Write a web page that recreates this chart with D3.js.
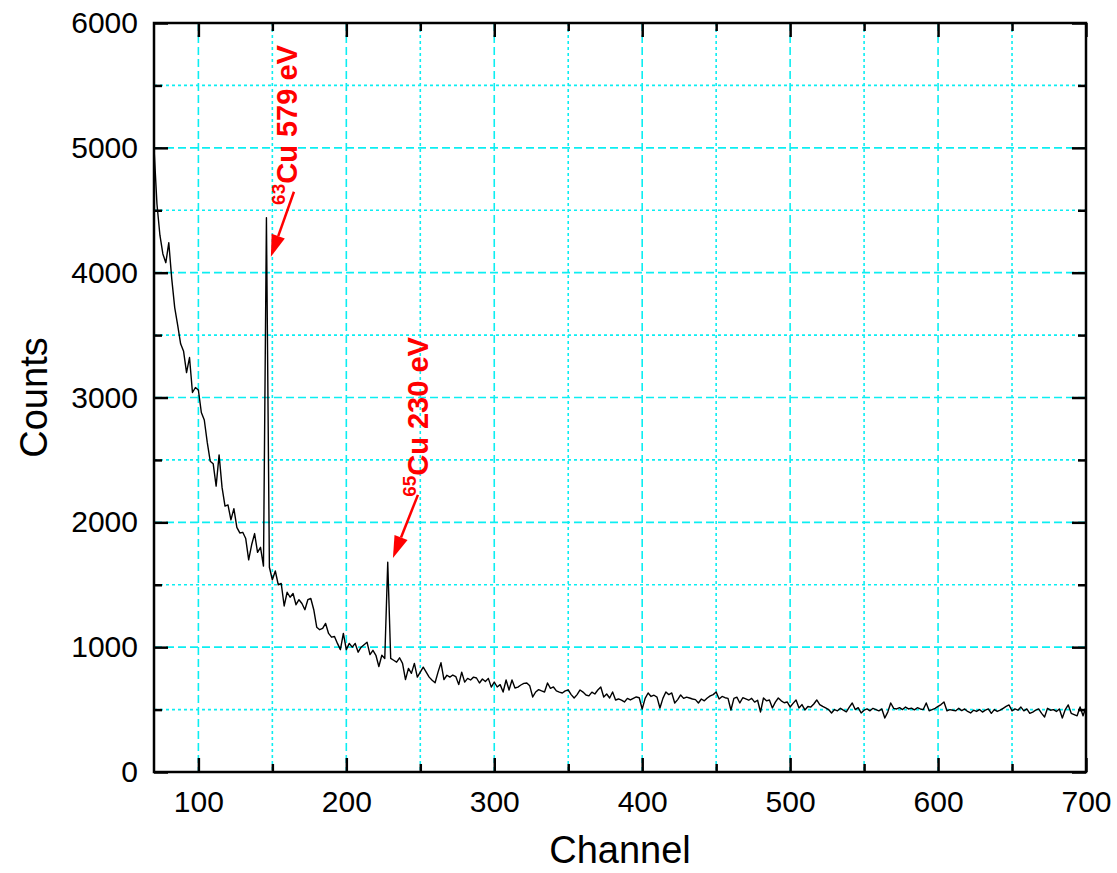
<!DOCTYPE html>
<html><head><meta charset="utf-8">
<script src="https://cdn.jsdelivr.net/npm/d3@7"></script>
<style>body{margin:0;background:#fff;} svg{display:block;font-family:"Liberation Sans", Arial, sans-serif;}</style>
</head><body><svg id="chart" width="1117" height="873"></svg>
<script>
const channels = [
70,72,74,76,78,80,82,84,86,88,
90,92,94,96,98,100,102,104,106,108,
110,112,114,116,118,120,122,124,126,128,
130,132,134,136,138,140,142,144,146,148,
150,152,154,156,158,160,162,164,166,168,
170,172,174,176,178,180,182,184,186,188,
190,192,194,196,198,200,202,204,206,208,
210,212,214,216,218,220,222,224,226,228,
230,232,234,236,238,240,242,244,246,248,
250,252,254,256,258,260,262,264,266,268,
270,272,274,276,278,280,282,284,286,288,
290,292,294,296,298,300,302,304,306,308,
310,312,314,316,318,320,322,324,326,328,
330,332,334,336,338,340,342,344,346,348,
350,352,354,356,358,360,362,364,366,368,
370,372,374,376,378,380,382,384,386,388,
390,392,394,396,398,400,402,404,406,408,
410,412,414,416,418,420,422,424,426,428,
430,432,434,436,438,440,442,444,446,448,
450,452,454,456,458,460,462,464,466,468,
470,472,474,476,478,480,482,484,486,488,
490,492,494,496,498,500,502,504,506,508,
510,512,514,516,518,520,522,524,526,528,
530,532,534,536,538,540,542,544,546,548,
550,552,554,556,558,560,562,564,566,568,
570,572,574,576,578,580,582,584,586,588,
590,592,594,596,598,600,602,604,606,608,
610,612,614,616,618,620,622,624,626,628,
630,632,634,636,638,640,642,644,646,648,
650,652,654,656,658,660,662,664,666,668,
670,672,674,676,678,680,682,684,686,688,
690,692,694,696,698,700];
const counts = [
5000,4550,4300,4150,4080,4240,3950,3720,3580,3430,
3370,3200,3320,3040,3080,3060,2880,2820,2640,2490,
2470,2290,2540,2280,2130,2140,2020,2110,1960,1915,
1920,1870,1700,1820,1910,1760,1800,1650,4440,1640,
1540,1610,1500,1510,1330,1440,1400,1430,1340,1380,
1350,1300,1380,1390,1300,1160,1140,1150,1190,1110,
1080,1085,1030,980,1110,980,1030,1000,1030,960,
1000,1020,1040,940,975,935,845,935,910,1680,
910,895,880,915,870,740,830,790,870,760,
800,840,800,760,735,715,800,875,740,775,
760,777,765,700,800,720,750,737,760,753,
713,745,725,750,680,721,681,700,641,737,
657,737,673,680,697,710,713,690,601,641,
660,650,641,713,670,681,650,640,633,650,
657,620,593,620,657,640,617,610,640,625,
657,681,601,625,593,641,577,585,575,561,
590,577,590,601,595,505,590,633,605,615,
600,513,590,641,620,633,553,580,617,590,
600,593,585,580,553,585,570,593,610,620,
641,585,605,595,590,497,590,600,553,595,
585,575,590,560,575,481,593,570,577,513,
560,593,570,555,561,521,550,577,513,540,
497,525,520,545,577,540,525,513,500,473,
500,490,510,495,482,520,553,500,515,473,
495,505,490,510,500,490,505,433,480,553,
510,505,515,500,520,505,512,498,515,505,
500,553,490,500,510,525,540,561,490,500,
495,490,510,492,505,485,473,495,485,500,
480,495,505,470,500,485,495,510,525,537,
490,505,495,520,490,505,470,480,495,505,
470,441,510,495,500,485,505,433,500,537,
470,460,450,521,450,520];
const xMajorTicks = [100,200,300,400,500,600,700];
const xMinorTicks = [150,250,350,450,550,650];
const yMajorTicks = [0,1000,2000,3000,4000,5000,6000];
const yMinorTicks = [500,1500,2500,3500,4500,5500];
const peakIsotopes = ["63", "65"];
const peakLabels = ["Cu 579 eV", "Cu 230 eV"];
// anchors in data coordinates: label start, arrow start, arrow tip
const peakAnchors = [
  {label:[167, 4543], from:[164.6, 4648], to:[149, 4127]},
  {label:[255, 2204], from:[248.4, 2220], to:[231.5, 1715]}
];

(function draw() {
const W = 1117, H = 873;
const m = {left:154, right:31, top:23, bottom:101};
const svg = d3.select("#chart");
const x = d3.scaleLinear().domain([70,700]).range([m.left, W - m.right]);
const y = d3.scaleLinear().domain([0,6000]).range([H - m.bottom, m.top]);
const x0 = x.range()[0], x1 = x.range()[1], y0 = y.range()[0], y1 = y.range()[1];
const gridColor = "#0ceef2";

const grid = svg.append("g");
grid.selectAll(".vmaj").data(xMajorTicks.filter(d => d < 700)).join("line")
  .attr("x1", d => x(d)).attr("x2", d => x(d)).attr("y1", y1).attr("y2", y0)
  .attr("stroke", gridColor).attr("stroke-width", 1.6).attr("stroke-dasharray", "8,4");
grid.selectAll(".vmin").data(xMinorTicks).join("line")
  .attr("x1", d => x(d)).attr("x2", d => x(d)).attr("y1", y1).attr("y2", y0)
  .attr("stroke", gridColor).attr("stroke-width", 1.6).attr("stroke-dasharray", "3,3");
grid.selectAll(".hmaj").data(yMajorTicks.filter(d => d > 0 && d < 6000)).join("line")
  .attr("y1", d => y(d)).attr("y2", d => y(d)).attr("x1", x0).attr("x2", x1)
  .attr("stroke", gridColor).attr("stroke-width", 1.6).attr("stroke-dasharray", "8,4");
grid.selectAll(".hmin").data(yMinorTicks).join("line")
  .attr("y1", d => y(d)).attr("y2", d => y(d)).attr("x1", x0).attr("x2", x1)
  .attr("stroke", gridColor).attr("stroke-width", 1.6).attr("stroke-dasharray", "3,3");

svg.append("clipPath").attr("id","clip").append("rect")
  .attr("x", x0).attr("y", y1).attr("width", x1 - x0).attr("height", y0 - y1);
const pts = channels.map((c, i) => [c, counts[i]]);
svg.append("path").datum(pts)
  .attr("clip-path", "url(#clip)")
  .attr("fill", "none").attr("stroke", "#000").attr("stroke-width", 1.4)
  .attr("stroke-linejoin", "round")
  .attr("d", d3.line().x(d => x(d[0])).y(d => y(d[1])));

function styleAxis(g, width) {
  g.select(".domain").remove();
  g.selectAll(".tick line").attr("stroke", "#000").attr("stroke-width", width);
  g.selectAll(".tick text").attr("fill", "#000").style("font-size", "30px")
    .style("font-family", "'Liberation Sans', Arial, sans-serif");
}
function addAxis(axisFn, scale, ticks, size, translate, labels, pad) {
  const ax = axisFn(scale).tickValues(ticks).tickSizeInner(-size).tickSizeOuter(0)
    .tickPadding(pad || 3).tickFormat(labels ? d3.format("d") : "");
  const g = svg.append("g").attr("transform", translate).call(ax);
  styleAxis(g, 2.5);
}
addAxis(d3.axisBottom, x, xMajorTicks, 14, `translate(0,${y0})`, true, 19);
addAxis(d3.axisBottom, x, xMinorTicks, 8, `translate(0,${y0})`, false);
addAxis(d3.axisTop, x, xMajorTicks, 14, `translate(0,${y1})`, false);
addAxis(d3.axisTop, x, xMinorTicks, 8, `translate(0,${y1})`, false);
addAxis(d3.axisLeft, y, yMajorTicks, 14, `translate(${x0},0)`, true, 16);
addAxis(d3.axisLeft, y, yMinorTicks, 8, `translate(${x0},0)`, false);
addAxis(d3.axisRight, y, yMajorTicks, 14, `translate(${x1},0)`, false);
addAxis(d3.axisRight, y, yMinorTicks, 8, `translate(${x1},0)`, false);

svg.append("rect").attr("x", x0).attr("y", y1).attr("width", x1 - x0).attr("height", y0 - y1)
  .attr("fill", "none").attr("stroke", "#000").attr("stroke-width", 2.5);

svg.append("text").attr("x", (x0 + x1) / 2).attr("y", 863).attr("text-anchor", "middle")
  .style("font-size", "38px").attr("fill", "#000").text("Channel");
svg.append("text").attr("transform", `translate(47,${(y0 + y1) / 2}) rotate(-90)`).attr("text-anchor", "middle")
  .style("font-size", "38px").attr("fill", "#000").text("Counts");

const red = "#ff0000";
peakAnchors.forEach((a, i) => {
  const fx = x(a.from[0]), fy = y(a.from[1]), tx = x(a.to[0]), ty = y(a.to[1]);
  const ang = Math.atan2(ty - fy, tx - fx);
  const L = 22, hw = 7;
  const bx = tx - L * Math.cos(ang), by = ty - L * Math.sin(ang);
  svg.append("line").attr("x1", fx).attr("y1", fy).attr("x2", bx).attr("y2", by)
    .attr("stroke", red).attr("stroke-width", 2.5);
  const px = -Math.sin(ang), py = Math.cos(ang);
  svg.append("polygon")
    .attr("points", [[tx, ty], [bx + px * hw, by + py * hw], [bx - px * hw, by - py * hw]].map(p => p.join(",")).join(" "))
    .attr("fill", red);
  const t = svg.append("text")
    .attr("transform", `translate(${x(a.label[0])},${y(a.label[1])}) rotate(-90)`)
    .attr("fill", red).style("font-weight", "bold").style("font-size", "29px");
  t.append("tspan").style("font-size", "19px").attr("dy", -12).text(peakIsotopes[i]);
  t.append("tspan").attr("dy", 12).text(peakLabels[i]);
});
})();
</script>
</body></html>
